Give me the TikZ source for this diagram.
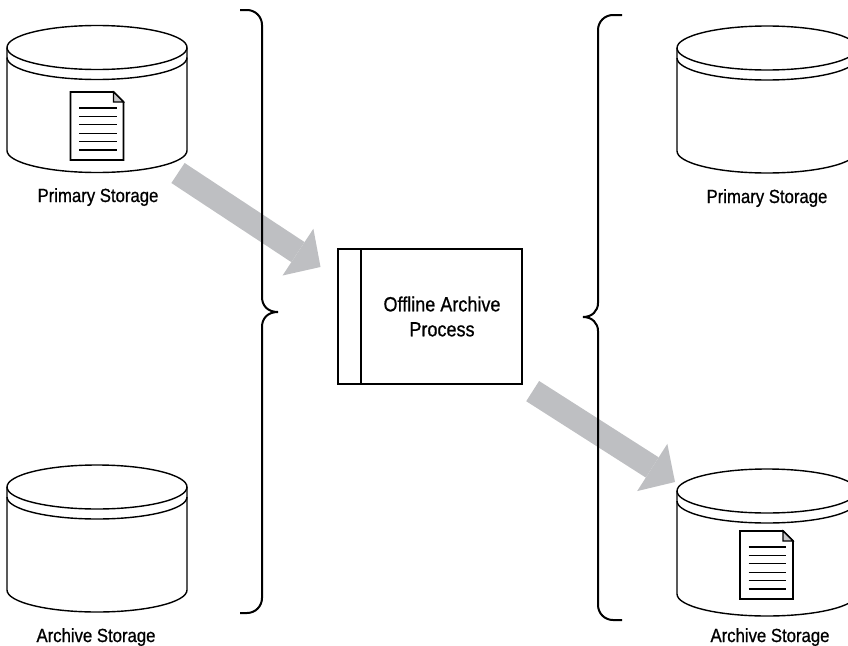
\documentclass[tikz,border=0pt]{standalone}
\usepackage{fontspec}
\setmainfont{Liberation Sans}[FakeStretch=0.88, FakeBold=0.8]
\usepackage{tikz}
\usetikzlibrary{arrows.meta}

\definecolor{flowgray}{RGB}{190,191,194}
\definecolor{foldgray}{RGB}{200,200,202}

\tikzset{
	storage/.pic={
		\draw[cyl] (0,0) ellipse [x radius=90, y radius=22];
		\draw[cyl] (-90,0) -- (-90,10) arc[start angle=180, end angle=0, x radius=90, y radius=22] -- (90,0);
		\draw[cyl] (-90,10) -- (-90,103) arc[start angle=180, end angle=0, x radius=90, y radius=22] -- (90,10);
		\coordinate (-out) at (81,125.5);
		\coordinate (-in) at (-92,-9);
	},
	document/.pic={
		\draw[docline, fill=white] (-26.5,-34) -- (16.5,-34) -- (26.5,-24) -- (26.5,34) -- (-26.5,34) -- cycle;
		\draw[textline, fill=foldgray] (16.5,-34) -- (16.5,-24) -- (26.5,-24) -- cycle;
		\foreach \k in {0,...,5}
			\draw[textline] (-18,-18+8.4*\k) -- (19.5,-18+8.4*\k);
	}
}

\begin{document}
\begin{tikzpicture}[x=1pt, y=-1pt,
		cyl/.style={line width=1.4pt},
		docline/.style={line width=1.8pt},
		textline/.style={line width=1.1pt},
		bracket/.style={line width=2pt},
		procbox/.style={draw, line width=1.6pt, minimum width=184pt, minimum height=135pt, inner sep=0pt},
		caption/.style={anchor=base, font=\fontsize{19}{21}\selectfont},
		flow/.style={draw=flowgray, line width=24pt, -{Triangle[length=27pt, width=56pt, line width=0pt]}}]
		\useasboundingbox (0,0) rectangle (848,645);
		
		\pic (psA) at (97,47.5) {storage};
		\pic at (97,126) {document};
		\node[caption] (psAl) at (98,202) {Primary Storage};
		
		\pic (asA) at (97,487) {storage};
		\node[caption] (asAl) at (96,642) {Archive Storage};
		
		\pic (psB) at (767,48) {storage};
		\node[caption] (psBl) at (767,203) {Primary Storage};
		
		\pic (asB) at (767,491) {storage};
		\pic at (766.5,565) {document};
		\node[caption] (asBl) at (770,642) {Archive Storage};
		
		\node[procbox] (oap) at (430,316.5) {};
		\draw[line width=1.6pt] ([xshift=24pt]oap.north west) -- ([xshift=24pt]oap.south west);
		\node[align=center, font=\fontsize{20.5}{25}\selectfont] (oapt) at ([xshift=12pt]oap.center) {Offline Archive\\Process};
		
		\draw[flow, shorten >=20pt] (psA-out) -- ([yshift=38.5pt]oap.west);
		\draw[flow, shorten <=11.7pt] (oap.south east) -- (asB-in);
		
		\draw[bracket] (240,10) -- (247,10) .. controls (255.3,10) and (262,16.7) .. (262,25) -- (262,297)
			.. controls (262,306) and (268,312) .. (278,312) .. controls (268,312) and (262,318) .. (262,327)
			-- (262,598) .. controls (262,606.3) and (255.3,613) .. (247,613) -- (240,613);
		\draw[bracket] (622,15) -- (613,15) .. controls (604.7,15) and (598,21.7) .. (598,30) -- (598,303)
			.. controls (598,311) and (592,317) .. (583,317) .. controls (592,317) and (598,323) .. (598,331)
			-- (598,605) .. controls (598,613.3) and (604.7,620) .. (613,620) -- (622,620);
\end{tikzpicture}
\end{document}
